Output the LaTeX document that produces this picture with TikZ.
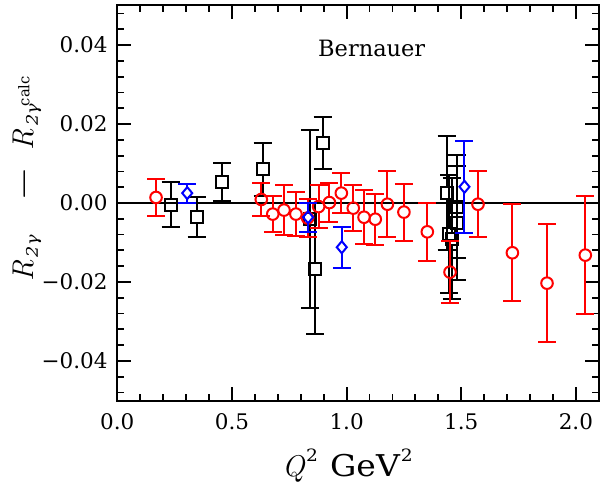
\documentclass[tikz,border=0pt]{standalone}
\usepackage{fontspec}
\setmainfont{DejaVu Serif}
\newfontfamily\wide[FakeStretch=1.1]{DejaVu Serif}
\newfontfamily\lmr{Latin Modern Roman}
\newcommand\tickf{\fontsize{21.5}{24}\selectfont}
\newcommand\subf{\wide\itshape\fontsize{16}{16}\selectfont}
\newcommand\calcf{\fontsize{14.7}{15}\selectfont}
\newcommand\supf{\wide\fontsize{17}{17}\selectfont}
\newcommand\bigf{\fontsize{30}{30}\selectfont}
\newcommand\Rsub{{\lmr\itshape R}\kern3pt\raisebox{-4.5pt}{\subf 2γ}}
\tikzset{
  frame/.style={line width=2pt},
  tickmark/.style={line width=1.8pt},
  zeroline/.style={line width=1.7pt},
  mk/.style={line width=2pt},
  ticklab/.style={inner sep=0pt, font=\tickf},
}
% error bar from marker edge: colour, half size, Q, v, e
\newcommand\errbar[5]{%
  \draw[mk,#1] (#3,#4) ++(0,#2) -- (#3,#4+#5) ++(-9pt,0) -- ++(18pt,0);
  \draw[mk,#1] (#3,#4) ++(0,-#2) -- (#3,#4-#5) ++(-9pt,0) -- ++(18pt,0);}
\newcommand\sqpt[3]{\errbar{black}{6pt}{#1}{#2}{#3}%
  \draw[mk,black] (#1,#2) ++(-6pt,-6pt) rectangle ++(12pt,12pt);}
\newcommand\cipt[3]{\errbar{red}{5.8pt}{#1}{#2}{#3}%
  \draw[mk,red] (#1,#2) circle[radius=5.8pt];}
\newcommand\dmpt[3]{\errbar{blue}{6pt}{#1}{#2}{#3}%
  \draw[mk,blue] (#1,#2) ++(0,6pt) -- ++(-5pt,-6pt) -- ++(5pt,-6pt) -- ++(5pt,6pt) -- cycle;}
\begin{document}
\begin{tikzpicture}[x=1pt,y=1pt]
\useasboundingbox (0,0) rectangle (606,-490);
\fill[white] (0,0) rectangle (606,-490);
\begin{scope}[shift={(117.3pt,-203pt)}, x=229.3pt, y=3950pt]
  % zero line
  \draw[zeroline] (0,0) -- (2.1,0);
  % ticks
  \foreach \i in {1,...,20} {
    \draw[tickmark] (\i/10,-0.05) -- ++(0,7pt);
    \draw[tickmark] (\i/10,0.05) -- ++(0,-7pt);
  }
  \foreach \q in {0.5,1,1.5,2} {
    \draw[tickmark] (\q,-0.05) -- ++(0,14pt);
    \draw[tickmark] (\q,0.05) -- ++(0,-14pt);
  }
  \foreach \i in {-12,...,12} {
    \draw[tickmark] (0,\i*0.004) -- ++(7pt,0);
    \draw[tickmark] (2.1,\i*0.004) -- ++(-7pt,0);
  }
  \foreach \v in {-0.04,-0.02,0,0.02,0.04} {
    \draw[tickmark] (0,\v) -- ++(14pt,0);
    \draw[tickmark] (2.1,\v) -- ++(-14pt,0);
  }
  % frame
  \draw[frame] (0,-0.05) rectangle (2.1,0.05);
  % tick labels
  \foreach \v/\t in {0.04/0.04, 0.02/0.02, 0/0.00, -0.02/−0.02, -0.04/−0.04}
    \node[ticklab, anchor=east] at ([xshift=-9.5pt]0,\v) {\t};
  \foreach \q/\t in {0/0.0, 0.5/0.5, 1/1.0, 1.5/1.5, 2/2.0}
    \node[ticklab] at ([yshift=-21.2pt]\q,-0.05) {\t};
  % black squares
  \sqpt{0.233}{-0.0004}{0.0057}
  \sqpt{0.346}{-0.0035}{0.0051}
  \sqpt{0.457}{0.0053}{0.0049}
  \sqpt{0.634}{0.0085}{0.0068}
  \sqpt{0.842}{-0.0041}{0.0226}
  \sqpt{0.864}{-0.0166}{0.0166}
  \sqpt{0.895}{0.0151}{0.0066}
  \sqpt{1.436}{0.0025}{0.0145}
  \sqpt{1.480}{-0.0009}{0.0130}
  \sqpt{1.480}{-0.0051}{0.0145}
  \sqpt{1.448}{-0.0079}{0.0150}
  \sqpt{1.458}{-0.0091}{0.0153}
  % red circles
  \cipt{0.169}{0.0014}{0.0046}
  \cipt{0.628}{0.0009}{0.0042}
  \cipt{0.678}{-0.0028}{0.0046}
  \cipt{0.727}{-0.0018}{0.0064}
  \cipt{0.779}{-0.0028}{0.0055}
  \cipt{0.830}{-0.0038}{0.0047}
  \cipt{0.878}{-0.0009}{0.0055}
  \cipt{0.925}{0.0001}{0.0050}
  \cipt{0.977}{0.0025}{0.0050}
  \cipt{1.029}{-0.0013}{0.0058}
  \cipt{1.076}{-0.0036}{0.0069}
  \cipt{1.125}{-0.0041}{0.0065}
  \cipt{1.178}{-0.0003}{0.0084}
  \cipt{1.250}{-0.0023}{0.0072}
  \cipt{1.352}{-0.0073}{0.0073}
  \cipt{1.451}{-0.0175}{0.0079}
  \cipt{1.573}{-0.0003}{0.0083}
  \cipt{1.723}{-0.0126}{0.0123}
  \cipt{1.874}{-0.0203}{0.0150}
  \cipt{2.041}{-0.0132}{0.0150}
  % blue diamonds
  \dmpt{0.305}{0.0025}{0.0024}
  \dmpt{0.832}{-0.0036}{0.0037}
  \dmpt{0.979}{-0.0112}{0.0052}
  \dmpt{1.514}{0.0041}{0.0116}
\end{scope}
% title
\node[anchor=base, inner sep=0pt, font=\fontsize{22.5}{26}\selectfont] (title) at (371.7,-56) {Bernauer};
% x axis label
\node[anchor=base west, inner sep=0pt] (xlab) at (282,-476.7)
  {\bigf{\lmr\itshape Q}\kern1.5pt\raisebox{15pt}{\supf 2}\hspace{12pt}{\wide GeV}\kern1pt\raisebox{15pt}{\supf 2}};
% y axis label
\node[rotate=90, anchor=base west, inner sep=0pt] (ylab) at (33.3,-281.7)
  {\bigf\Rsub\hspace{35.6pt}\raisebox{-2.4pt}{\fontsize{43}{43}\selectfont\lmr −}\hspace{18.6pt}\Rsub\kern-2pt\raisebox{4pt}{\calcf calc}};
\end{tikzpicture}
\end{document}
